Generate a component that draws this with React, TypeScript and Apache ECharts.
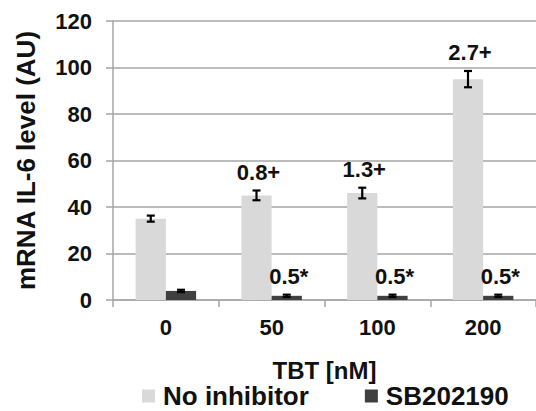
import React, { useEffect, useRef } from "react";
import * as echarts from "echarts";

const categories = ["0", "50", "100", "200"];
const noInhibitor = [35, 45, 46, 95];
const noInhibitorErr = [1.3, 2.1, 2.3, 3.5];
const sb202190 = [3.9, 1.8, 1.8, 1.8];
const sb202190Err = [0.5, 0.5, 0.5, 0.5];
const noInhibitorLabels = ["", "0.8+", "1.3+", "2.7+"];
const sb202190Labels = ["", "0.5*", "0.5*", "0.5*"];
const yMin = 0;
const yMax = 120;
const yInterval = 20;

const BAR_FRAC = 0.286;
const FONT = "'Liberation Sans', Arial, sans-serif";
const TEXT = "#111111";

function errorSeries(name: string, values: number[], errs: number[], labels: string[], side: number) {
  return {
    type: "custom",
    name,
    clip: false,
    silent: true,
    z: 5,
    encode: { x: 0, y: 1 },
    data: values.map((v, i) => [i, v, errs[i]]),
    renderItem: (params: any, api: any) => {
      const idx = api.value(0);
      const val = api.value(1);
      const err = api.value(2);
      const band = api.size([1, 0])[0];
      const c = api.coord([idx, val]);
      const x = c[0] + side * band * BAR_FRAC / 2;
      const top = api.coord([idx, val + err])[1];
      const bot = api.coord([idx, val - err])[1];
      const cap = 4;
      const st = { stroke: "#000", lineWidth: 2.2 };
      const label = labels[params.dataIndex];
      const children: any[] = [
        { type: "line", shape: { x1: x, y1: top, x2: x, y2: bot }, style: st },
        { type: "line", shape: { x1: x - cap, y1: top, x2: x + cap, y2: top }, style: st },
        { type: "line", shape: { x1: x - cap, y1: bot, x2: x + cap, y2: bot }, style: st },
      ];
      if (label) {
        children.push({
          type: "text",
          style: {
            x: x + 2,
            y: top - 18,
            text: label,
            align: "center",
            verticalAlign: "middle",
            fontSize: 22,
            fontWeight: "bold",
            fontFamily: FONT,
            fill: TEXT,
          },
        });
      }
      return { type: "group", children };
    },
  };
}

export default function App() {
  const ref = useRef<HTMLDivElement>(null);
  useEffect(() => {
    if (!ref.current) return;
    const chart = echarts.init(ref.current, null, { renderer: "svg" });
    chart.setOption({
      animation: false,
      backgroundColor: "#ffffff",
      textStyle: { fontFamily: FONT },
      grid: { left: 113, top: 21, width: 427, height: 279, containLabel: false },
      legend: {
        data: ["No inhibitor", "SB202190"],
        left: 142,
        top: 383,
        icon: "rect",
        itemWidth: 13,
        itemHeight: 13,
        itemGap: 56,
        padding: 0,
        textStyle: {
          fontSize: 26,
          fontWeight: "bold",
          fontFamily: FONT,
          color: TEXT,
          padding: [0, 0, 0, 3],
        },
      },
      xAxis: {
        type: "category",
        data: categories,
        name: "TBT [nM]",
        nameLocation: "middle",
        nameGap: 58,
        nameTextStyle: { fontSize: 24, fontWeight: "bold", color: TEXT, fontFamily: FONT },
        axisLine: { show: true, lineStyle: { color: "#a6a6a6", width: 1.5 } },
        axisTick: { show: true, length: 7, inside: false, lineStyle: { color: "#a6a6a6", width: 1.5 } },
        axisLabel: { fontSize: 22, fontWeight: "bold", color: TEXT, margin: 16, fontFamily: FONT },
        splitLine: { show: false },
      },
      yAxis: {
        type: "value",
        min: yMin,
        max: yMax,
        interval: yInterval,
        name: "mRNA IL-6 level (AU)",
        nameLocation: "middle",
        nameGap: 74,
        nameTextStyle: { fontSize: 26, fontWeight: "bold", color: TEXT, fontFamily: FONT },
        axisLine: { show: true, lineStyle: { color: "#a6a6a6", width: 1.5 } },
        axisTick: { show: true, length: 7, lineStyle: { color: "#a6a6a6", width: 1.5 } },
        axisLabel: { fontSize: 22, fontWeight: "bold", color: TEXT, margin: 21, fontFamily: FONT },
        splitLine: { show: true, lineStyle: { color: "#a6a6a6", width: 1.5 } },
      },
      series: [
        {
          type: "bar",
          name: "No inhibitor",
          data: noInhibitor,
          barWidth: (BAR_FRAC * 100).toFixed(1) + "%",
          barGap: "0%",
          itemStyle: { color: "#d9d9d9" },
        },
        {
          type: "bar",
          name: "SB202190",
          data: sb202190,
          barWidth: (BAR_FRAC * 100).toFixed(1) + "%",
          barGap: "0%",
          itemStyle: { color: "#404040" },
        },
        errorSeries("errA", noInhibitor, noInhibitorErr, noInhibitorLabels, -1),
        errorSeries("errB", sb202190, sb202190Err, sb202190Labels, 1),
      ],
    });
    return () => chart.dispose();
  }, []);
  return (
    <div
      ref={ref}
      style={{ position: "fixed", left: 0, top: 0, width: 536, height: 411 }}
    />
  );
}
